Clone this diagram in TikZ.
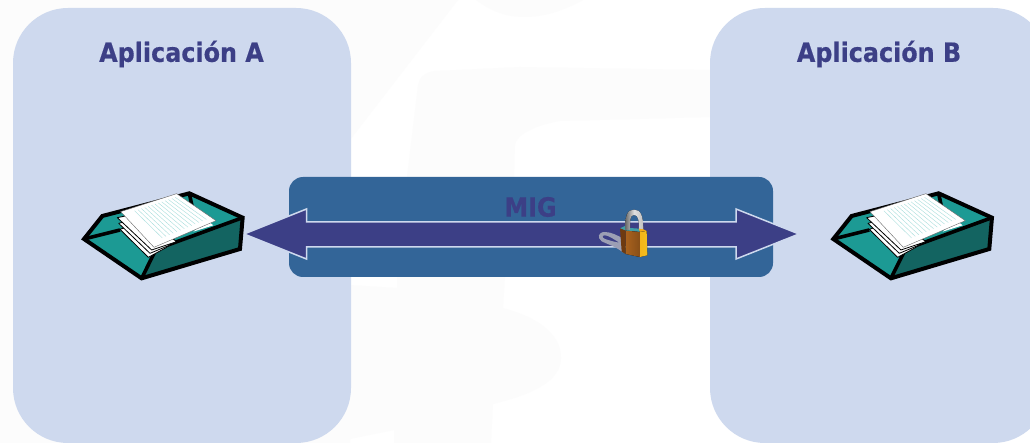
\documentclass[tikz,border=0pt]{standalone}
\usepackage{fontspec}
\setmainfont{DejaVu Sans}[BoldFont={DejaVu Sans Bold},BoldFeatures={FakeStretch=0.9,FakeBold=0.5}]
\definecolor{panelc}{HTML}{CED9EE}
\definecolor{boxc}{HTML}{336598}
\definecolor{arrowc}{HTML}{3C3F86}
\definecolor{wm}{HTML}{FCFCFC}
\definecolor{trayc}{HTML}{1C9A94}
\definecolor{trayd}{HTML}{136461}
\definecolor{linec}{HTML}{A8DEDC}
\definecolor{lockd}{HTML}{6E3A10}
\definecolor{lockm}{HTML}{A9621E}
\definecolor{locky}{HTML}{F2BE1E}
\definecolor{lockshadow}{HTML}{9C9FB4}
\definecolor{lockt}{HTML}{3F9FA8}
\tikzset{
  panel/.style={fill=panelc,rounded corners=55pt},
  titletext/.style={text=arrowc,font=\bfseries\fontsize{26.5}{27}\selectfont,inner sep=0pt},
  blk/.style={draw=black,line width=3.6pt,line join=miter},
  sheet/.style={fill=white,draw=black,line width=0.8pt,line join=round},
}
\newcommand{\mytray}[1]{%
\begin{scope}[shift={(#1,170)},x=0.3333pt,y=-0.3333pt]
  \fill[trayc] (42,207)--(97,138)--(358,70)--(518,143)--(510,237)--(215,325)--cycle;
  \fill[trayd] (258,238)--(518,143)--(510,237)--(215,325)--cycle;
  \draw[blk] (42,207)--(150,180);
  \draw[blk,line width=4pt] (42,207)--(97,138)--(358,70)--(518,143)--(510,237)--(215,325)--cycle;
  \draw[blk] (215,325)--(258,238)--(518,143);
  \draw[blk] (358,70)--(366,108);
  % stacked sheets
  \draw[sheet] (150,178)--(235,262)--(290,232)--(205,160)--cycle;
  \draw[sheet] (146,160)--(240,250)--(300,225)--(205,145)--cycle;
  \draw[sheet] (142,143)--(245,240)--(320,215)--(205,130)--cycle;
  \fill[white] (370,185)--(430,166)--(410,150)--cycle;
  \draw[sheet,draw=black!60,line width=0.4pt] (152,125)--(320,71)--(438,152)--(252,232)--cycle;
  \foreach \s in {0.2,0.26,...,0.94}{
    \draw[linec,line width=0.4pt]
      ({152+168*\s+0.08*(100+18*\s)},{125-54*\s+0.08*(107-26*\s)})
      --++ ({0.8*(100+18*\s)},{0.8*(107-26*\s)});
  }
\end{scope}}
\begin{document}
\begin{tikzpicture}[x=1pt,y=-1pt]
\useasboundingbox (0,0) rectangle (1030,443);
\clip (0,0) rectangle (1030,443);
\fill[white] (0,0) rectangle (1030,443);
% faint watermark
\fill[wm] (0,0)--(458,0)--(350,140)--(350,443)--(0,443)--cycle;
\fill[wm] (476,0) .. controls (495,14) and (510,17) .. (525,17) .. controls (545,17) and (565,10) .. (583,0) --cycle;
\fill[wm] (407,177)--(418,85) .. controls (419,78) and (425,72) .. (435,71)--(520,67)--(710,70)--(710,117)--(640,119)--(560,121) .. controls (535,125) and (516,135) .. (515,145)--(514,177)--cycle;
\fill[wm] (350,285)--(397,288)--(397,277)--(505,277)--(503,308) .. controls (540,318) and (561,335) .. (561,358) .. controls (561,382) and (530,395) .. (493,404)--(491,443)--(394,443)--(394,430)--(350,439)--cycle;
% panels
\fill[panel] (13,8) rectangle (351,443);
\fill[panel] (710,8) rectangle (1048,443);
\node[titletext] (appA) at (181.5,54) {Aplicación A};
\node[titletext] (appB) at (879,54) {Aplicación B};
% MIG bus
\fill[boxc,rounded corners=14pt] (289,177) rectangle (773,277);
\node[titletext] (mig) at (530.5,207) {MIG};
\draw[fill=arrowc,draw=panelc,line width=1.5pt,line join=miter]
  (244,234)--(306.5,209)--(306.5,222)--(736,222)--(736,209)--(799,234)--(736,259)--(736,247)--(306.5,247)--(306.5,259)--cycle;
% padlock
\begin{scope}[shift={(590,200)},x=0.3333pt,y=-0.3333pt]
  \fill[lockshadow,even odd rule]
    (100,158) .. controls (75,138) and (50,132) .. (35,124)
    .. controls (20,112) and (25,96) .. (45,96)
    .. controls (65,96) and (85,108) .. (100,116) --cycle
    (88,128) .. controls (72,118) and (55,106) .. (45,106) .. controls (35,106) and (36,113) .. (45,117) .. controls (60,122) and (75,126) .. (88,128) --cycle;
  \fill[left color=black!60,right color=black!25,middle color=black!12]
    (105,90) .. controls (105,45) and (112,29) .. (132,29) .. controls (152,29) and (160,45) .. (160,92)--(147,92) .. controls (147,60) and (145,45) .. (132,45) .. controls (120,45) and (120,60) .. (120,92)--cycle;
  \fill[lockt] (90,85)--(105,78)--(105,90)--(120,90)--(120,84)--(147,86)--(147,92)--(150,96)--(107,92)--cycle;
  \fill[locky!70!orange] (147,86)--(160,88)--(170,93)--(150,96)--cycle;
  \fill[lockd] (90,85)--(107,92)--(107,162)--(95,155)--cycle;
  \fill[left color=lockm,right color=lockm!80!black] (107,92)--(150,96)--(150,171)--(107,162)--cycle;
  \fill[left color=locky!85!orange,right color=locky] (150,96)--(170,93)--(172,166)--(150,171)--cycle;
\end{scope}
% trays
\mytray{70}
\mytray{819.3}
\end{tikzpicture}
\end{document}
